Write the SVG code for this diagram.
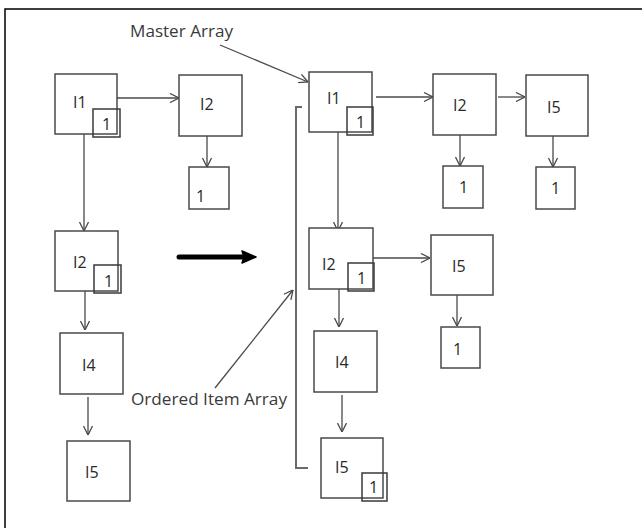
<svg xmlns="http://www.w3.org/2000/svg" width="642" height="528" viewBox="0 0 642 528">
<defs>
<style>
.box{fill:#fff;stroke:#4a4a4a;stroke-width:1.5}
.sm{fill:none;stroke:#3a3a3a;stroke-width:1.5}
.lbl{font-family:"Open Sans","Liberation Sans",sans-serif;font-size:16px;fill:#2a2a2a}
.cap{font-family:"Open Sans","Liberation Sans",sans-serif;font-size:17px;fill:#3a3a3a}
.con{fill:none;stroke:#4a4a4a;stroke-width:1.3}
.frame{fill:none;stroke:#000;stroke-width:1.5}
</style>
<marker id="ah" viewBox="0 0 10 10" refX="10" refY="5" markerWidth="10" markerHeight="10" markerUnits="userSpaceOnUse" orient="auto">
<path d="M1,0.5 L10,5 L1,9.5" fill="none" stroke="#4a4a4a" stroke-width="1.3"/>
</marker>
</defs>
<rect width="642" height="528" fill="#fff"/>
<path class="frame" d="M5,528 L5,9 L642,9"/>

<g id="connectors">
<line class="con" x1="117" y1="98" x2="179" y2="98" marker-end="url(#ah)"/>
<line class="con" x1="207" y1="136" x2="207" y2="167" marker-end="url(#ah)"/>
<line class="con" x1="84" y1="134" x2="84" y2="231" marker-end="url(#ah)"/>
<line class="con" x1="85" y1="291" x2="85" y2="330" marker-end="url(#ah)"/>
<line class="con" x1="88" y1="397" x2="88" y2="435" marker-end="url(#ah)"/>
<line class="con" x1="376" y1="97" x2="433" y2="97" marker-end="url(#ah)"/>
<line class="con" x1="498" y1="97" x2="525" y2="97" marker-end="url(#ah)"/>
<line class="con" x1="460" y1="135" x2="460" y2="166" marker-end="url(#ah)"/>
<line class="con" x1="553" y1="136" x2="553" y2="167" marker-end="url(#ah)"/>
<line class="con" x1="338" y1="132" x2="338" y2="231" marker-end="url(#ah)"/>
<line class="con" x1="373" y1="258" x2="430" y2="258" marker-end="url(#ah)"/>
<line class="con" x1="457" y1="295" x2="457" y2="326" marker-end="url(#ah)"/>
<line class="con" x1="339" y1="289" x2="339" y2="327" marker-end="url(#ah)"/>
<line class="con" x1="342" y1="395" x2="342" y2="432" marker-end="url(#ah)"/>
<line class="con" x1="220" y1="45" x2="308" y2="82" marker-end="url(#ah)"/>
<line class="con" x1="215" y1="388" x2="293" y2="290" marker-end="url(#ah)"/>
<path d="M302,107 L296,107 L296,468 L308,468" fill="none" stroke="#6a6a6a" stroke-width="2"/>
<line x1="179" y1="257" x2="246" y2="257" stroke="#000" stroke-width="5" stroke-linecap="round"/>
<path d="M242,251 L256,257 L242,263 L244,257 Z" fill="#000" stroke="#000" stroke-width="1.5" stroke-linejoin="round"/>
</g>

<text class="cap" x="130" y="37" textLength="103" lengthAdjust="spacingAndGlyphs">Master Array</text>
<text class="cap" x="131" y="405" textLength="156" lengthAdjust="spacingAndGlyphs">Ordered Item Array</text>

<g id="L_I1"><rect class="box" x="55" y="74" width="62" height="60"/><text class="lbl" x="73" y="108">I1</text>
<rect class="sm" x="93" y="109" width="27" height="28"/><text class="lbl" x="102" y="130">1</text></g>
<g id="L_I2"><rect class="box" x="179" y="75" width="63" height="61"/><text class="lbl" x="200" y="110">I2</text></g>
<g id="L_I2_1"><rect class="box" x="189" y="167" width="40" height="42"/><text class="lbl" x="196" y="202">1</text></g>
<g id="L_I2b"><rect class="box" x="55" y="231" width="63" height="60"/><text class="lbl" x="73" y="268">I2</text>
<rect class="sm" x="94" y="265" width="27" height="28"/><text class="lbl" x="104" y="287">1</text></g>
<g id="L_I4"><rect class="box" x="60" y="333" width="63" height="61"/><text class="lbl" x="82" y="371">I4</text></g>
<g id="L_I5"><rect class="box" x="67" y="441" width="63" height="60"/><text class="lbl" x="85" y="478">I5</text></g>

<g id="R_I1"><rect class="box" x="309" y="72" width="63" height="60"/><text class="lbl" x="327" y="104">I1</text>
<rect class="sm" x="347" y="107" width="26" height="28"/><text class="lbl" x="356" y="128">1</text></g>
<g id="R_I2"><rect class="box" x="433" y="74" width="63" height="61"/><text class="lbl" x="453" y="111">I2</text></g>
<g id="R_I2_1"><rect class="box" x="443" y="166" width="40" height="42"/><text class="lbl" x="459" y="193">1</text></g>
<g id="R_I5"><rect class="box" x="526" y="75" width="62" height="61"/><text class="lbl" x="547" y="113">I5</text></g>
<g id="R_I5_1"><rect class="box" x="536" y="167" width="39" height="42"/><text class="lbl" x="551" y="194">1</text></g>
<g id="R_I2b"><rect class="box" x="309" y="228" width="64" height="61"/><text class="lbl" x="322" y="270">I2</text>
<rect class="sm" x="348" y="263" width="26" height="28"/><text class="lbl" x="357" y="284">1</text></g>
<g id="R_I5b"><rect class="box" x="431" y="235" width="62" height="60"/><text class="lbl" x="452" y="272">I5</text></g>
<g id="R_I5b_1"><rect class="box" x="441" y="327" width="39" height="41"/><text class="lbl" x="453" y="355">1</text></g>
<g id="R_I4"><rect class="box" x="314" y="331" width="63" height="61"/><text class="lbl" x="335" y="368">I4</text></g>
<g id="R_I5c"><rect class="box" x="321" y="438" width="62" height="60"/><text class="lbl" x="335" y="473">I5</text>
<rect class="sm" x="362" y="473" width="25" height="28"/><text class="lbl" x="369" y="493">1</text></g>
</svg>
